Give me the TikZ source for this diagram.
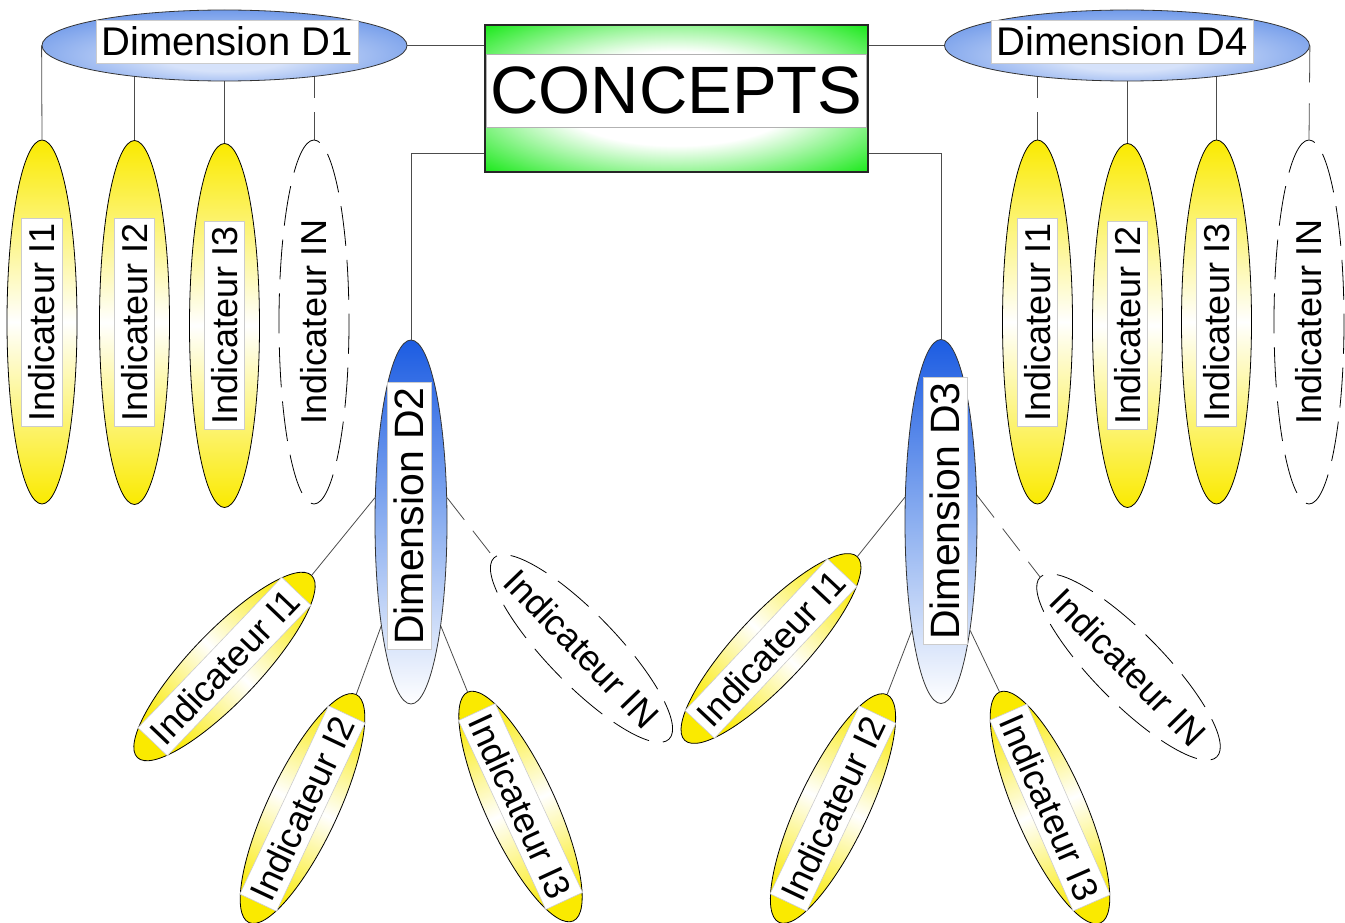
\documentclass[tikz,border=0pt]{standalone}
\usepackage{fontspec}
\setmainfont{Liberation Sans}
\usepackage{tikz}
\usetikzlibrary{shapes, positioning}
\pgfdeclarelayer{background}
\pgfsetlayers{background,main}

\definecolor{indicyellow}{RGB}{250,234,0}
\definecolor{dimblue}{RGB}{104,148,232}
\definecolor{dimlight}{RGB}{214,226,250}
\definecolor{dimdark}{RGB}{28,92,226}
\definecolor{dimmid}{RGB}{140,175,240}
\definecolor{conceptgreen}{RGB}{18,232,18}

\pgfdeclareradialshading{conceptshade}{\pgfpoint{0bp}{0bp}}{color(0bp)=(white); color(16bp)=(white); color(36bp)=(conceptgreen); color(50bp)=(conceptgreen)}
\pgfdeclareradialshading{dimshade}{\pgfpoint{0bp}{-12bp}}{color(0bp)=(dimlight); color(8bp)=(dimlight); color(32bp)=(dimblue); color(50bp)=(dimblue)}

\newcommand{\indicfont}{\fontsize{36}{40}\selectfont}
\newcommand{\dimfont}{\fontsize{40}{44}\selectfont}
\newcommand{\bigdimfont}{\fontsize{41}{45}\selectfont}
\newcommand{\conceptfont}{\fontsize{67}{70}\selectfont}

\tikzstyle{conceptbox} = [rectangle, draw=black!85, line width=1.2pt, shading=conceptshade, minimum width=383pt, minimum height=147pt]
\tikzstyle{band} = [rectangle, fill=white, draw=black!30, line width=0.8pt, minimum width=380pt, minimum height=73pt, inner sep=0pt, font=\conceptfont]
\tikzstyle{dimh} = [ellipse, draw=black!80, line width=0.8pt, shading=dimshade, minimum width=365pt, minimum height=71pt, inner sep=0pt]
\tikzstyle{dimv} = [ellipse, draw=black!80, line width=0.8pt, top color=dimdark, bottom color=white, middle color=dimmid, minimum width=72pt, minimum height=364pt, inner sep=0pt]
\tikzstyle{indic} = [ellipse, draw=black, line width=0.8pt, top color=indicyellow, bottom color=indicyellow, middle color=white, minimum width=252pt, minimum height=70pt, inner sep=0pt]
\tikzstyle{openindic} = [ellipse, draw=black, line width=0.8pt, dash pattern=on 40pt off 14pt, fill=white, minimum width=252pt, minimum height=70pt, inner sep=0pt]
\tikzstyle{labelbox} = [rectangle, fill=white, draw=black!20, line width=0.6pt, inner xsep=5pt, inner ysep=7pt, font=\indicfont]
\tikzstyle{link} = [draw=black!70, line width=0.8pt]
\tikzstyle{dashlink} = [link, dash pattern=on 28pt off 14pt]

\begin{document}
\begin{tikzpicture}[x=1pt, y=-1pt]
	\useasboundingbox (0,0) rectangle (1345,923);

	\node (concepts) [conceptbox] at (676.5, 98.5) {};
	\node (conceptst) [band] at (676.5, 90.5) {CONCEPTS};

	% dimensions
	\node (D1) [dimh] at (224.5, 45.5) {};
	\node (D1t) [labelbox, font=\dimfont, inner xsep=5.5pt] at (227, 41.5) {Dimension D1};
	\node (D4) [dimh] at (1127, 45.5) {};
	\node (D4t) [labelbox, font=\dimfont, inner xsep=5.5pt] at (1122, 41.5) {Dimension D4};
	\node (D2) [dimv] at (411, 522) {};
	\node (D2t) [labelbox, font=\bigdimfont, rotate=90] at (409, 516) {Dimension D2};
	\node (D3) [dimv] at (941, 521.5) {};
	\node (D3t) [labelbox, font=\bigdimfont, rotate=90] at (945, 511) {Dimension D3};

	\draw [link] (D1.east) -- (D1.east -| concepts.west);
	\draw [link] (D4.west) -- (D4.west -| concepts.east);
	\draw [link] ([yshift=19pt]concepts.south west) -| (D2.north);
	\draw [link] ([yshift=19pt]concepts.south east) -| (D3.north);

	% indicators of D1
	\node (D1I1) [indic, minimum width=364pt, rotate=90] at (42, 322) {};
	\node (D1I1t) [labelbox, rotate=90] at (D1I1) {Indicateur I1};
	\node (D1I2) [indic, minimum width=364pt, rotate=90] at (134.5, 322.5) {};
	\node (D1I2t) [labelbox, rotate=90] at (D1I2) {Indicateur I2};
	\node (D1I3) [indic, minimum width=364pt, rotate=90] at (224.5, 325.5) {};
	\node (D1I3t) [labelbox, rotate=90] at (D1I3) {Indicateur I3};
	\node (D1IN) [openindic, minimum width=364pt, rotate=90] at (314, 322) {};
	\node (D1INt) [rotate=90, font=\indicfont] at (D1IN) {Indicateur IN};

	\draw [link] (D1.west) -- (D1I1.east);
	\begin{pgfonlayer}{background}
		\draw [link] (D1I2.east) -- (D1I2.east |- D1.center);
		\draw [link] (D1I3.east) -- (D1I3.east |- D1.center);
		\draw [dashlink] (D1IN.east) -- (D1IN.east |- D1.center);
	\end{pgfonlayer}

	% indicators of D4
	\node (D4I1) [indic, minimum width=364pt, rotate=90] at (1037.5, 322) {};
	\node (D4I1t) [labelbox, rotate=90] at (D4I1) {Indicateur I1};
	\node (D4I2) [indic, minimum width=364pt, rotate=90] at (1127.5, 325.5) {};
	\node (D4I2t) [labelbox, rotate=90] at (D4I2) {Indicateur I2};
	\node (D4I3) [indic, minimum width=364pt, rotate=90] at (1216.5, 322) {};
	\node (D4I3t) [labelbox, rotate=90] at (D4I3) {Indicateur I3};
	\node (D4IN) [openindic, minimum width=364pt, rotate=90] at (1309, 322) {};
	\node (D4INt) [rotate=90, font=\indicfont] at (D4IN) {Indicateur IN};

	\draw [dashlink, dash pattern=on 37pt off 21pt] (D4.east) -- (D4IN.east);
	\begin{pgfonlayer}{background}
		\draw [dashlink] (D4I1.east) -- (D4I1.east |- D4.center);
		\draw [link] (D4I2.east) -- (D4I2.east |- D4.center);
		\draw [link] (D4I3.east) -- (D4I3.east |- D4.center);
	\end{pgfonlayer}

	% indicators of D2
	\node (D2I1) [indic, rotate=46.3, shading angle=-43.7] at (224.5, 666.5) {};
	\node (D2I1t) [labelbox, rotate=46.3] at (D2I1) {Indicateur I1};
	\node (D2I2) [indic, rotate=64.8, shading angle=-25.2] at (302.5, 808.5) {};
	\node (D2I2t) [labelbox, rotate=64.8] at (D2I2) {Indicateur I2};
	\node (D2I3) [indic, rotate=-65.2, shading angle=24.8] at (520.5, 806.5) {};
	\node (D2I3t) [labelbox, rotate=-65.2] at (D2I3) {Indicateur I3};
	\node (D2IN) [openindic, rotate=-46] at (581.5, 648.5) {};
	\node (D2INt) [rotate=-46, font=\indicfont] at (D2IN) {Indicateur IN};

	\draw [link] (D2.146) -- (D2I1.east);
	\draw [link] (D2.254) -- (D2I2.east);
	\draw [link] (D2.286) -- (D2I3.west);
	\draw [dashlink] (D2.34) -- (D2IN.west);

	% indicators of D3
	\node (D3I1) [indic, rotate=46.8, shading angle=-43.2] at (771, 648.5) {};
	\node (D3I1t) [labelbox, rotate=46.8] at (D3I1) {Indicateur I1};
	\node (D3I2) [indic, rotate=64.6, shading angle=-25.4] at (833, 808.5) {};
	\node (D3I2t) [labelbox, rotate=64.6] at (D3I2) {Indicateur I2};
	\node (D3I3) [indic, rotate=-66.4, shading angle=23.6] at (1050, 807.5) {};
	\node (D3I3t) [labelbox, rotate=-66.4] at (D3I3) {Indicateur I3};
	\node (D3IN) [openindic, rotate=-45.5] at (1128.5, 667) {};
	\node (D3INt) [rotate=-45.5, font=\indicfont] at (D3IN) {Indicateur IN};

	\draw [link] (D3.146) -- (D3I1.east);
	\draw [link] (D3.255) -- (D3I2.east);
	\draw [link] (D3.285) -- (D3I3.west);
	\draw [dashlink] (D3.36) -- (D3IN.west);
\end{tikzpicture}
\end{document}
